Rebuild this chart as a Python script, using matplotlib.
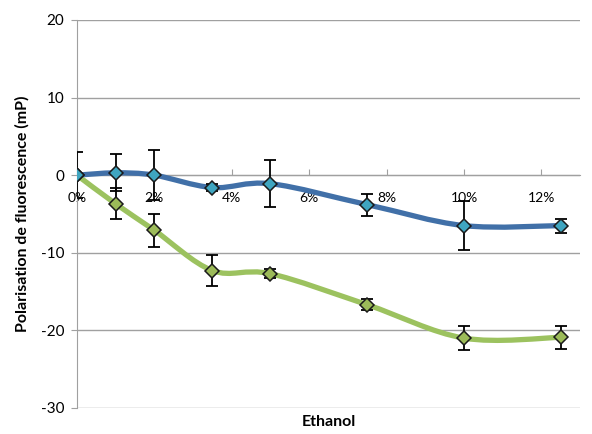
import numpy as np
import matplotlib
matplotlib.use("Agg")
import matplotlib.pyplot as plt
from matplotlib.path import Path
from matplotlib.patches import PathPatch

plt.rcParams['font.family'] = ['Lato', 'DejaVu Sans']

ethanol = [0, 1, 2, 3.5, 5, 7.5, 10, 12.5]
blue_y = [0, 0.3, 0, -1.6, -1.1, -3.8, -6.5, -6.5]
blue_err = [3.0, 2.4, 3.2, 0.5, 3.0, 1.4, 3.2, 0.9]
green_y = [0, -3.7, -7.1, -12.3, -12.7, -16.7, -21.0, -20.9]
green_err = [0.0, 2.0, 2.1, 2.0, 0.6, 0.7, 1.5, 1.5]
xticks = [0, 2, 4, 6, 8, 10, 12]
xlabels = ["0%", "2%", "4%", "6%", "8%", "10%", "12%"]
yticks = [20, 10, 0, -10, -20, -30]

BLUE_LINE, BLUE_MK = "#4170a8", "#3fa5c0"
GREEN_LINE, GREEN_MK = "#9cc25f", "#9cbb59"


def smooth_path(xs, ys):
    # Excel-style smoothed line: Catmull-Rom as cubic Bezier segments
    p = np.column_stack([xs, ys]).astype(float)
    n = len(p)
    verts = [p[0]]
    codes = [Path.MOVETO]
    for i in range(n - 1):
        p0 = p[i - 1] if i > 0 else p[i]
        p3 = p[i + 2] if i + 2 < n else p[i + 1]
        c1 = p[i] + (p[i + 1] - p0) / 6
        c2 = p[i + 1] - (p3 - p[i]) / 6
        verts += [c1, c2, p[i + 1]]
        codes += [Path.CURVE4] * 3
    return Path(verts, codes)


fig = plt.figure(figsize=(5.92, 4.34), dpi=100)
ax = fig.add_axes([0.130, 0.060, 0.850, 0.894])

for ys, col in [(green_y, GREEN_LINE), (blue_y, BLUE_LINE)]:
    ax.add_patch(PathPatch(smooth_path(ethanol, ys), facecolor="none",
                           edgecolor=col, lw=3.8, capstyle="round", zorder=3))

for ys, err, mk in [(green_y, green_err, GREEN_MK), (blue_y, blue_err, BLUE_MK)]:
    ax.errorbar(ethanol, ys, yerr=err, fmt="none", ecolor="black",
                elinewidth=1.3, capsize=4, capthick=1.3, zorder=4)
    ax.plot(ethanol, ys, ls="none", marker="D", ms=7, mfc=mk,
            mec="#1a1a1a", mew=1.1, zorder=5)

ax.set_xlim(0, 13)
ax.set_ylim(-30, 20)
ax.set_yticks(yticks)
ax.set_yticklabels([str(v) for v in yticks], fontsize=11)
ax.set_xticks(xticks)
ax.set_xticklabels(xlabels, fontsize=11)
ax.grid(axis="y", color="#a0a0a0", lw=1.0)
ax.set_axisbelow(True)

for s in ["top", "right"]:
    ax.spines[s].set_visible(False)
ax.spines["left"].set_color("#a0a0a0")
ax.spines["bottom"].set_position(("data", 0))
ax.spines["bottom"].set_color("#a0a0a0")
ax.tick_params(axis="y", direction="out", length=4, color="#a0a0a0", pad=5)
ax.tick_params(axis="x", direction="in", length=4, color="#a0a0a0", pad=12)

ax.set_ylabel("Polarisation de fluorescence (mP)", fontsize=11.5,
              fontweight="bold", labelpad=8)
ax.text(0.5, -0.036, "Ethanol", transform=ax.transAxes, ha="center",
        va="center", fontsize=11.5, fontweight="bold")

fig.savefig("out.png", dpi=100)
